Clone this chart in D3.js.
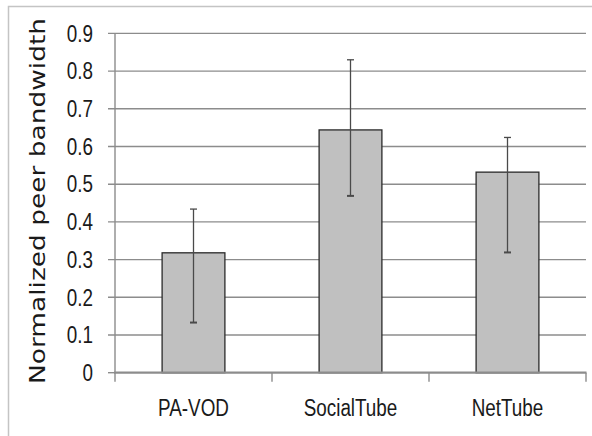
<!DOCTYPE html>
<html><head><meta charset="utf-8">
<script src="https://cdn.jsdelivr.net/npm/d3@7"></script>
<style>body{margin:0;background:#fff}svg{display:block}</style>
</head><body>
<svg id="c" width="592" height="436"></svg>
<script>
const categories = ["PA-VOD", "SocialTube", "NetTube"];
const values = [0.318, 0.644, 0.532];
const errLow = [0.133, 0.469, 0.319];
const errHigh = [0.434, 0.830, 0.624];
const yTicks = [0, 0.1, 0.2, 0.3, 0.4, 0.5, 0.6, 0.7, 0.8, 0.9];
const yTitle = "Normalized peer bandwidth";

const svg = d3.select("#c");
const narrow = "'Liberation Sans','Arial',sans-serif";
const squeeze = 0.82;

// outer frame (extends past image)
svg.append("path").attr("d", "M8.5,440 V6.5 H600").attr("fill", "none")
  .attr("stroke", "#c4c4c4").attr("stroke-width", 1.5);

const y = d3.scaleLinear().domain([0, 0.9]).range([372.7, 33.4]);
const x = d3.scaleBand().domain(categories).range([115, 586]).paddingInner(0.6).paddingOuter(0.3);

// gridlines
svg.append("g").selectAll("line").data(yTicks.filter(d => d > 0)).join("line")
  .attr("x1", 108).attr("x2", 586)
  .attr("y1", d => y(d)).attr("y2", d => y(d))
  .attr("stroke", "#8c8c8c").attr("stroke-width", 1.4);
svg.append("line").attr("x1", 108).attr("x2", 115).attr("y1", y(0)).attr("y2", y(0))
  .attr("stroke", "#8c8c8c").attr("stroke-width", 1.4);

// y axis line
svg.append("line").attr("x1", 115).attr("x2", 115).attr("y1", y(0.9)).attr("y2", y(0))
  .attr("stroke", "#8c8c8c").attr("stroke-width", 1.4);

// y tick labels
svg.append("g").selectAll("text").data(yTicks).join("text")
  .attr("transform", d => `translate(93,${y(d)}) scale(${squeeze},1)`)
  .attr("dy", "0.36em")
  .attr("text-anchor", "end").attr("font-family", narrow).attr("font-size", 23)
  .attr("fill", "#1a1a1a").text(d => d3.format("")(d));

// bars
svg.append("g").selectAll("rect").data(categories).join("rect")
  .attr("x", d => x(d)).attr("width", x.bandwidth())
  .attr("y", (d, i) => y(values[i])).attr("height", (d, i) => y(0) - y(values[i]))
  .attr("fill", "#c0c0c0").attr("stroke", "#2a2a2a").attr("stroke-width", 1.3);

// error bars
const eg = svg.append("g").attr("stroke", "#4a4a4a").attr("stroke-width", 1.3);
categories.forEach((c, i) => {
  const cx = x(c) + x.bandwidth() / 2;
  eg.append("line").attr("x1", cx).attr("x2", cx).attr("y1", y(errHigh[i])).attr("y2", y(errLow[i]));
  eg.append("line").attr("x1", cx - 3.5).attr("x2", cx + 3.5).attr("y1", y(errHigh[i])).attr("y2", y(errHigh[i]));
  eg.append("line").attr("x1", cx - 3.5).attr("x2", cx + 3.5).attr("y1", y(errLow[i])).attr("y2", y(errLow[i])).attr("stroke-width", 2);
});

// x axis line
svg.append("line").attr("x1", 114).attr("x2", 586.5).attr("y1", y(0)).attr("y2", y(0))
  .attr("stroke", "#8c8c8c").attr("stroke-width", 2.2);
const step = x.step();
const bounds = categories.map(c => x(c) - (step - x.bandwidth()) / 2).concat([x(categories[2]) + x.bandwidth() + (step - x.bandwidth()) / 2]);
svg.append("g").selectAll("line").data(bounds).join("line")
  .attr("x1", d => d).attr("x2", d => d).attr("y1", y(0)).attr("y2", y(0) + 9)
  .attr("stroke", "#8c8c8c").attr("stroke-width", 1.4);

// category labels
svg.append("g").selectAll("text").data(categories).join("text")
  .attr("transform", d => `translate(${x(d) + x.bandwidth() / 2},416) scale(${squeeze},1)`)
  .attr("text-anchor", "middle").attr("font-family", narrow).attr("font-size", 23)
  .attr("fill", "#1a1a1a").text(d => d);

// y title
svg.append("text").attr("transform", "translate(45,201) rotate(-90)")
  .attr("text-anchor", "middle").attr("font-family", "'DejaVu Sans',Verdana,sans-serif")
  .attr("font-size", 22).attr("fill", "#1a1a1a")
  .attr("textLength", 366).attr("lengthAdjust", "spacingAndGlyphs")
  .text(yTitle);
</script>
</body></html>
